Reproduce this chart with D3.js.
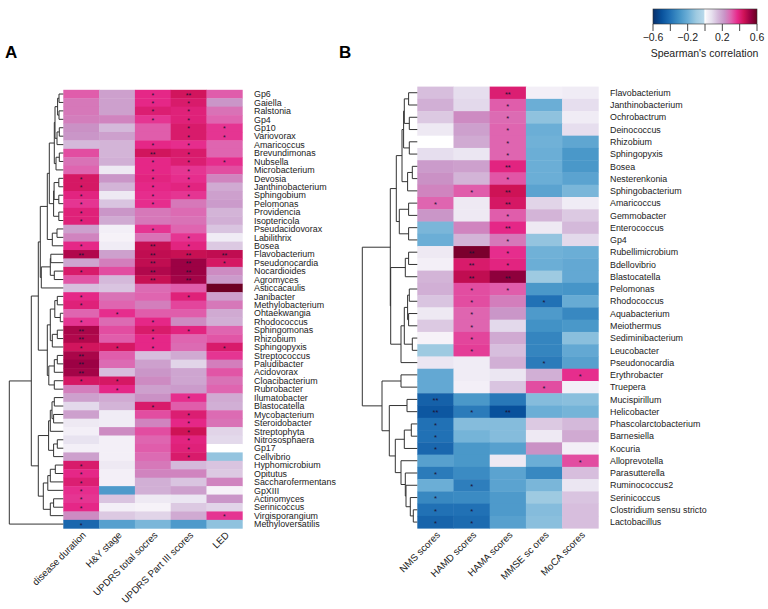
<!DOCTYPE html>
<html><head><meta charset="utf-8">
<script src="https://cdn.jsdelivr.net/npm/d3@7"></script>
<style>html,body{margin:0;padding:0;background:#fff}svg{display:block}text{font-family:"Liberation Sans",Arial,sans-serif;fill:#222}</style>
</head><body><div id="c"></div>
<script>
const taxaA=["Gp6","Gaiella","Ralstonia","Gp4","Gp10","Variovorax","Amaricoccus","Brevundimonas","Nubsella","Microbacterium","Devosia","Janthinobacterium","Sphingobium","Pelomonas","Providencia","Isoptericola","Pseudacidovorax","Labilithrix","Bosea","Flavobacterium","Pseudonocardia","Nocardioides","Agromyces","Asticcacaulis","Janibacter","Methylobacterium","Ohtaekwangia","Rhodococcus","Sphingomonas","Rhizobium","Sphingopyxis","Streptococcus","Paludibacter","Acidovorax","Cloacibacterium","Rubrobacter","Ilumatobacter","Blastocatella","Mycobacterium","Steroidobacter","Streptophyta","Nitrososphaera","Gp17","Cellvibrio","Hyphomicrobium","Opitutus","Saccharofermentans","GpXIII","Actinomyces","Serinicoccus","Virgisporangium","Methyloversatilis"];
const varsA=["disease duration","H&Y stage","UPDRS total socres","UPDRS Part III scores","LED"];
const valuesA=[
[.31,.2,.38,.44,.31],[.27,.2,.38,.42,.22],[.27,.2,.41,.4,.28],[.26,.25,.36,.4,.3],[.23,.15,.31,.42,.36],[.22,.2,.31,.42,.36],[.15,.16,.38,.37,.3],[.33,.16,.44,.42,.3],[.28,.17,.38,.41,.37],[.3,.05,.38,.36,.33],
[.43,.22,.39,.37,.25],[.43,.16,.38,.39,.18],[.39,.05,.37,.36,.2],[.36,.13,.37,.27,.21],[.4,.22,.27,.29,.16],[.4,.18,.27,.28,.17],[.2,.03,.36,.3,.13],[.25,.02,.28,.36,.04],[.38,.04,.46,.39,.12],[.49,.2,.47,.46,.47],
[.19,.26,.47,.52,.43],[.42,.33,.49,.52,.24],[.32,.15,.46,.51,.21],[.14,.13,.29,.31,.59],[.38,.28,.3,.4,.2],[.4,.3,.26,.34,.27],[.3,.37,.31,.31,.18],[.36,.29,.38,.24,.17],[.5,.33,.42,.39,.3],[.49,.31,.38,.3,.32],
[.44,.43,.38,.29,.42],[.5,.31,.14,.18,.36],[.52,.29,.2,.1,.26],[.51,.14,.22,.19,.32],[.43,.43,.24,.19,.28],[.26,.38,.2,.21,.3],[.2,.18,.23,.37,.18],[.09,.16,.42,.31,.17],[.2,.04,.33,.41,.29],[.05,.04,.25,.38,.28],
[.03,.24,.33,.45,.1],[.07,.03,.3,.39,.09],[.03,.03,.31,.4,0],[.2,.03,.29,.42,-.12],[.42,.05,.27,.15,.13],[.38,.03,.25,.25,.12],[.41,.03,.17,.13,.25],[.37,-.27,.17,.2,.02],[.36,.13,.05,.06,.22],[.38,.03,.02,.12,.1],
[.24,.12,.1,.18,.36],[-.43,-.25,-.17,-.27,-.13]];
const starsA=[
[0,0,1,2,0],[0,0,1,1,0],[0,0,1,1,0],[0,0,1,1,0],[0,0,0,1,1],[0,0,0,1,1],[0,0,1,1,0],[0,0,2,1,0],[0,0,1,1,1],[0,0,1,1,0],
[1,0,1,1,0],[1,0,1,1,0],[1,0,1,1,0],[1,0,1,0,0],[1,0,0,0,0],[1,0,0,0,0],[0,0,1,0,0],[0,0,0,1,0],[1,0,2,1,0],[2,0,2,2,2],
[0,0,2,2,1],[1,0,2,2,0],[0,0,2,2,0],[0,0,0,0,0],[1,0,0,1,0],[1,0,0,0,0],[0,1,0,0,0],[1,0,1,0,0],[2,0,1,1,0],[2,0,1,0,0],
[1,1,1,0,1],[2,0,0,0,0],[2,0,0,0,0],[2,0,0,0,0],[1,1,0,0,0],[0,1,0,0,0],[0,0,0,1,0],[0,0,1,0,0],[0,0,0,1,0],[0,0,0,1,0],
[0,0,0,1,0],[0,0,0,1,0],[0,0,0,1,0],[0,0,0,1,0],[1,0,0,0,0],[1,0,0,0,0],[1,0,0,0,0],[1,0,0,0,0],[1,0,0,0,0],[1,0,0,0,0],
[0,0,0,0,1],[1,0,0,0,0]];
// dendrogram A: [height, child, child]; numbers are leaf rows
const treeA=[54,[32,[25,[23,[16,[14,[9,[8.3,[5.7,[4.3,0,1],[4.3,2,3]],[6.3,[4,4,5],6]],[7.3,[4,7,8],9]],[9.7,[9.2,[4.5,10,11],[4.5,12,13]],[4.5,14,15]]],[11,[6.3,16,17],18]],[22,[13,[12.5,19,20],[9,21,22]],23]],[16,[13,[8.5,[6,24,25],[3,26,27]],[11,[6,28,29],30]],[14.5,[9,[6,31,32],33],[9,34,35]]]],[25,[14.7,[13,[11.3,[9,36,37],[9.7,38,39]],40],[9.7,[6,41,42],43]],[20,[15.5,[13,[8,44,45],46],47],[13,[9.7,48,49],50]]]],51];

const taxaB=["Flavobacterium","Janthinobacterium","Ochrobactrum","Deinococcus","Rhizobium","Sphingopyxis","Bosea","Nesterenkonia","Sphingobacterium","Amaricoccus","Gemmobacter","Enterococcus","Gp4","Rubellimicrobium","Bdellovibrio","Blastocatella","Pelomonas","Rhodococcus","Aquabacterium","Meiothermus","Sediminibacterium","Leucobacter","Pseudonocardia","Erythrobacter","Truepera","Mucispirillum","Helicobacter","Phascolarctobacterium","Barnesiella","Kocuria","Alloprevotella","Parasutterella","Ruminococcus2","Serinicoccus","Clostridium sensu stricto","Lactobacillus"];
const varsB=["NMS scores","HAMD scores","HAMA scores","MMSE sc ores","MoCA scores"];
const valuesB=[
[.14,.08,.41,.03,.04],[.17,.09,.31,-.2,.08],[.12,.24,.29,-.13,.04],[.05,.2,.3,-.2,.08],[0,.18,.3,-.19,-.23],[.08,.06,.3,-.2,-.28],[.21,.2,.39,-.2,-.28],[.23,.16,.32,-.2,-.24],[.25,.31,.45,-.24,-.17],[.3,.05,.43,.1,.04],
[.22,.05,.31,.16,.12],[-.17,.25,.38,.05,.15],[-.2,.16,.27,-.12,.09],[.05,.57,.37,-.19,-.2],[.03,.42,.39,-.2,-.22],[.16,.47,.54,-.1,-.22],[.17,.33,.31,-.28,-.29],[.13,.33,.26,-.4,-.21],[.05,.3,.22,-.27,-.33],[.12,.3,.09,-.3,-.28],
[.02,.34,.18,-.34,-.14],[-.1,.35,.14,-.34,-.22],[.06,.04,.17,-.37,-.25],[-.22,.04,.06,.17,.37],[-.22,.03,.13,.33,.03],[-.45,-.28,-.38,-.15,-.14],[-.48,-.37,-.5,-.2,-.18],[-.4,-.15,-.15,.12,.15],[-.4,-.18,-.15,.05,.18],[-.43,-.28,-.25,.23,.03],
[-.25,-.28,.05,-.2,.33],[-.37,-.32,-.24,-.33,.14],[-.2,-.36,-.24,-.17,.06],[-.33,-.32,-.27,-.1,.13],[-.4,-.4,-.27,-.15,.14],[-.44,-.42,-.25,-.14,.14]];
const starsB=[
[0,0,2,0,0],[0,0,1,0,0],[0,0,1,0,0],[0,0,1,0,0],[0,0,1,0,0],[0,0,1,0,0],[0,0,2,0,0],[0,0,1,0,0],[0,1,2,0,0],[1,0,2,0,0],
[0,0,1,0,0],[0,0,2,0,0],[0,0,1,0,0],[0,2,1,0,0],[0,2,1,0,0],[0,2,2,0,0],[0,1,1,0,0],[0,1,0,1,0],[0,1,0,0,0],[0,1,0,0,0],
[0,1,0,0,0],[0,1,0,0,0],[0,0,0,1,0],[0,0,0,0,1],[0,0,0,1,0],[2,0,0,0,0],[2,1,2,0,0],[1,0,0,0,0],[1,0,0,0,0],[1,0,0,0,0],
[0,0,0,0,1],[1,0,0,0,0],[0,1,0,0,0],[1,0,0,0,0],[1,1,0,0,0],[1,1,0,0,0]];
const treeB=[55,[27,[21,[15.3,[13.7,[13,[8.7,0,1],[8,2,3]],[8,4,5]],[9.7,[5,6,7],8]],[18,[8.7,9,10],[8.7,11,12]]],[26.6,[12,[8.7,13,14],15],[16.3,[13,[9.7,[8,16,17],[8.7,18,19]],[5,20,21]],22]]],[35.3,[16.3,23,24],[28,[10.3,25,26],[22,[13,[6,27,28],29],[16.3,30,[12,31,[11.3,32,[7,33,[4,34,35]]]]]]]]];

const legendTicks=[-0.6,-0.4,-0.2,0,0.2,0.4,0.6];
const legendLabels=[-0.6,-0.2,0.2,0.6];
const colorStops=[-0.6,-0.5,-0.4,-0.3,-0.2,-0.1,-0.015,0,0.015,0.075,0.15,0.225,0.3,0.375,0.45,0.525,0.6];
const colorRange=["#08306b","#08519c","#2171b5","#4292c6","#6baed6","#9ecae1","#b8d8ea","#ffffff","#f7f4f9","#e7e1ef","#d4b9da","#c994c7","#df65b0","#e7298a","#ce1256","#980043","#67001f"];

const color=d3.scaleLinear().domain(colorStops).range(colorRange).clamp(true);
const svg=d3.select("#c").append("svg").attr("width",768).attr("height",609);

function panel(cfg){
  const g=svg.append("g");
  const x=d3.scaleBand().domain(cfg.vars).range([cfg.x0,cfg.x1]);
  const y=d3.scaleBand().domain(d3.range(cfg.taxa.length)).range([cfg.y0,cfg.y1]);
  const h=d3.scaleLinear().domain([0,cfg.hMax]).range([cfg.x0,cfg.x0-cfg.hMax]);
  cfg.values.forEach((row,i)=>row.forEach((v,j)=>{
    g.append("rect").attr("x",x(cfg.vars[j])).attr("y",y(i)).attr("width",x.bandwidth()+.4).attr("height",y.bandwidth()+.4).attr("fill",color(v));
    const n=cfg.stars[i][j];
    if(n) g.append("text").attr("x",x(cfg.vars[j])+x.bandwidth()/2).attr("y",y(i)+y.bandwidth()/2+cfg.starDy).attr("text-anchor","middle").attr("font-size",cfg.starSize).style("fill","#1d1233").text("*".repeat(n));
  }));
  g.selectAll(".lab").data(cfg.taxa).join("text").attr("x",cfg.labelX).attr("y",(d,i)=>y(i)+y.bandwidth()/2+3.2).attr("font-size",cfg.labelSize).text(d=>d);
  cfg.vars.forEach(v=>{
    const cx=x(v)+x.bandwidth()/2+3, cy=cfg.y1+5;
    g.append("text").attr("transform",`translate(${cx},${cy}) rotate(-45)`).attr("text-anchor","end").attr("font-size",cfg.colSize).attr("dy","0.35em").text(v);
  });
  const path=d3.path();
  function walk(n){
    if(typeof n==="number") return {yy:y(n)+y.bandwidth()/2,xx:cfg.x0};
    const a=walk(n[1]),b=walk(n[2]),px=h(n[0]);
    path.moveTo(a.xx,a.yy);path.lineTo(px,a.yy);path.lineTo(px,b.yy);path.lineTo(b.xx,b.yy);
    return {yy:(a.yy+b.yy)/2,xx:px};
  }
  walk(cfg.tree);
  g.append("path").attr("d",path.toString()).attr("fill","none").attr("stroke","#333").attr("stroke-width",1);
}
panel({taxa:taxaA,vars:varsA,values:valuesA,stars:starsA,tree:treeA,x0:63.3,x1:242.3,y0:89.8,y1:528.3,hMax:54,labelX:254,labelSize:8.9,colSize:9.7,starSize:7,starDy:3.6});
panel({taxa:taxaB,vars:varsB,values:valuesB,stars:starsB,tree:treeB,x0:417.3,x1:598.3,y0:86.6,y1:528.2,hMax:55,labelX:610,labelSize:8.9,colSize:9.7,starSize:7.5,starDy:3.8});

svg.append("text").attr("x",5).attr("y",58).attr("font-size",17).attr("font-weight","bold").style("fill","#000").text("A");
svg.append("text").attr("x",339).attr("y",58).attr("font-size",17).attr("font-weight","bold").style("fill","#000").text("B");

const lx=d3.scaleLinear().domain([-0.6,0.6]).range([653,757]);
const defs=svg.append("defs");
const grad=defs.append("linearGradient").attr("id","cb");
colorStops.forEach((s,i)=>grad.append("stop").attr("offset",(s+.6)/1.2).attr("stop-color",colorRange[i]));
svg.append("rect").attr("x",lx(-0.6)).attr("y",9).attr("width",lx(0.6)-lx(-0.6)).attr("height",15).attr("fill","url(#cb)");
svg.append("rect").attr("x",lx(-0.6)).attr("y",9).attr("width",lx(0.6)-lx(-0.6)).attr("height",15).attr("fill","none").attr("stroke","#333").attr("stroke-width",.6);
legendTicks.forEach(t=>svg.append("line").attr("x1",lx(t)).attr("x2",lx(t)).attr("y1",24).attr("y2",31).attr("stroke","#333").attr("stroke-width",.9));
legendLabels.forEach(t=>svg.append("text").attr("x",lx(t)).attr("y",41).attr("text-anchor","middle").attr("font-size",10.5).text(String(t).replace("-","\u2212")));
svg.append("text").attr("x",704.5).attr("y",57).attr("text-anchor","middle").attr("font-size",10.5).text("Spearman's correlation");
</script></body></html>
